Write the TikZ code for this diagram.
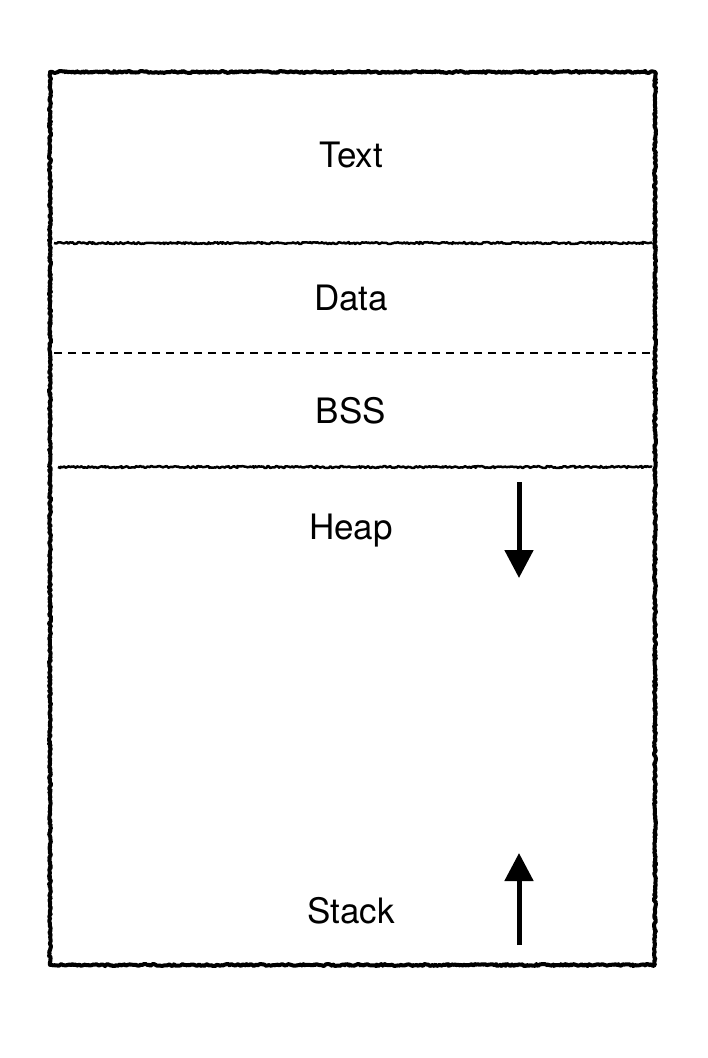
\documentclass[tikz,border=0pt]{standalone}
\usepackage{fontspec}
\setmainfont{TeX Gyre Heros}
\usetikzlibrary{arrows.meta,decorations.pathmorphing}

\tikzset{
  rough/.style={decorate,line join=round,decoration={random steps,segment length=1.5pt,amplitude=1pt}},
  seg/.style={font=\fontsize{35}{40}\selectfont},
  growarrow/.style={line width=5pt,-{Triangle[width=28pt,length=28pt]}}
}

\begin{document}
\pgfmathsetseed{7}
\begin{tikzpicture}[x=1pt,y=-1pt]
        \useasboundingbox (0,0) rectangle (708,1058);
        % memory layout
        \draw[rough,line width=4pt](50,72)rectangle(655,965);
        \draw[rough,line width=2.5pt](54,243)--(652,243);
        \draw[line width=2.5pt,dash pattern=on 8pt off 6pt](54,353)--(652,353);
        \draw[rough,line width=2.5pt](58,467)--(652,467);

        \node[seg](text)at(351,155){Text};
        \node[seg](data)at(351,298){Data};
        \node[seg](bss)at(351,411){BSS};
        \node[seg](heap)at(351,531){Heap};
        \node[seg](stack)at(351,911){Stack};

        % growth directions
        \coordinate(heaptop)at(519,482);
        \coordinate(heapend)at(519,578);
        \coordinate(stackbot)at(519,945);
        \coordinate(stackend)at(519,853);
        \draw[growarrow](heaptop)--(heapend);
        \draw[growarrow](stackbot)--(stackend);
\end{tikzpicture}
\end{document}
